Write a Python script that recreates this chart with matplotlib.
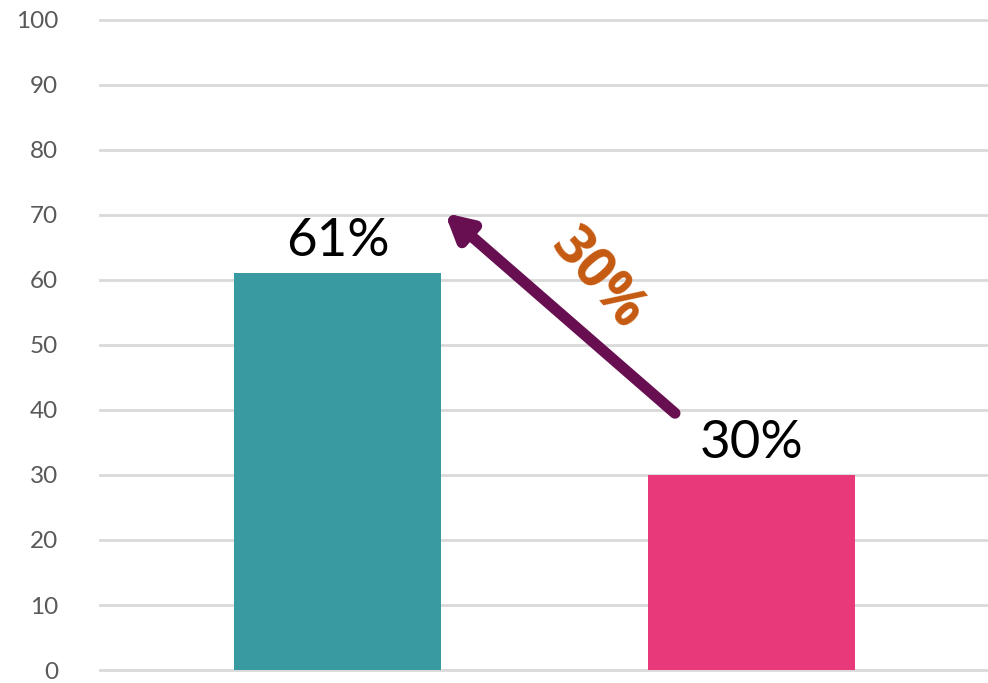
import matplotlib.pyplot as plt

categories = ["A", "B"]
values = [61, 30]
bar_labels = ["61%", "30%"]
bar_colors = ["#3A9AA2", "#E8397A"]
yticks = list(range(0, 101, 10))
change_label = "30%"

plt.rcParams["font.family"] = ["Lato", "DejaVu Sans"]

fig = plt.figure(figsize=(9.88, 6.83), dpi=100)
ax = fig.add_axes([0.101, 0.019, 0.899, 0.952])

x = list(range(len(categories)))
ax.bar(x, values, width=0.5, color=bar_colors, zorder=3)

for xi, v, lab in zip(x, values, bar_labels):
    ax.text(xi, v + 2.6, lab, ha="center", va="baseline", fontsize=38, color="black", zorder=4)

ax.set_xlim(-0.574, 1.571)
ax.set_ylim(0, 100)
ax.set_yticks(yticks)
ax.set_xticks([])
ax.tick_params(axis="y", length=0, labelsize=17.5, labelcolor="#595959", pad=30)
ax.grid(axis="y", color="#d9d9d9", linewidth=2, zorder=0)
for gl in ax.get_ygridlines():
    gl.set_clip_on(False)
for s in ax.spines.values():
    s.set_visible(False)

# arrow from the second bar label up to the first bar
ax.annotate("", xy=(0.259, 70.3), xytext=(0.815, 39.5),
            arrowprops=dict(arrowstyle="-|>,head_length=1.5,head_width=0.8",
                            lw=8, color="#670F50", shrinkA=0, shrinkB=0),
            zorder=5)
ax.text(0.628, 60, change_label, rotation=-49, ha="center", va="center",
        fontsize=40, fontweight="bold", family=["Open Sans", "DejaVu Sans"],
        color="#C55A11", zorder=5)

fig.savefig("out.png", dpi=100)
